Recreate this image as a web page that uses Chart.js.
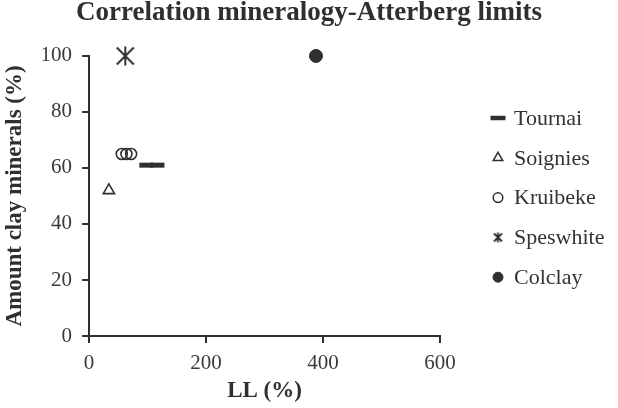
<!DOCTYPE html>
<html>
<head>
<meta charset="utf-8">
<script src="https://cdn.jsdelivr.net/npm/chart.js@4.4.1/dist/chart.umd.min.js"></script>
<style>
  html, body { margin: 0; padding: 0; background: #fff; }
  #chart { display: block; }
</style>
</head>
<body>
<canvas id="chart" width="618" height="408"></canvas>
<script>
// data
const seriesNames = ['Tournai', 'Soignies', 'Kruibeke', 'Speswhite', 'Colclay'];
const tournaiLL = [98, 117];
const tournaiClay = [61, 61];
const soigniesLL = [34];
const soigniesClay = [52];
const kruibekeLL = [56, 64, 72];
const kruibekeClay = [65, 65, 65];
const speswhiteLL = [62];
const speswhiteClay = [100];
const colclayLL = [388];
const colclayClay = [100];
const xTicks = [0, 200, 400, 600];
const yTicks = [0, 20, 40, 60, 80, 100];

const ink = '#2f2f2f';
const serif = '"Liberation Serif", "Times New Roman", serif';

function pts(xs, ys) {
    return xs.map((x, i) => ({x: x, y: ys[i]}));
}

// six-armed asterisk (vertical bar + X), drawn once as an image
function asterisk(w, h, lw) {
    const c = document.createElement('canvas');
    c.width = w; c.height = h;
    const g = c.getContext('2d');
    g.strokeStyle = ink;
    g.lineWidth = lw;
    g.beginPath();
    g.moveTo(w / 2, 0.5); g.lineTo(w / 2, h - 0.5);
    g.moveTo(1.5, 1.5); g.lineTo(w - 1.5, h - 1.5);
    g.moveTo(w - 1.5, 1.5); g.lineTo(1.5, h - 1.5);
    g.stroke();
    return c;
}
const starBig = asterisk(20, 20, 2);
const starSmall = asterisk(11, 11, 1.8);

// legend drawn at the right of the plot
const legendX = 498, legendTop = 118, legendStep = 39.8, legendTextX = 514;
const legendMarks = [
    {pointStyle: 'line', radius: 7.5, borderWidth: 4.5, fill: false},
    {pointStyle: 'triangle', radius: 5.5, borderWidth: 1.5, fill: false},
    {pointStyle: 'circle', radius: 4.8, borderWidth: 1.5, fill: false},
    {pointStyle: starSmall, radius: 5, borderWidth: 0, fill: false},
    {pointStyle: 'circle', radius: 5, borderWidth: 1, fill: true}
];
const sideLegend = {
    id: 'sideLegend',
    afterDraw(chart) {
        const c = chart.ctx;
        c.save();
        chart.data.datasets.forEach((ds, i) => {
            const y = legendTop + i * legendStep;
            const m = legendMarks[i];
            c.strokeStyle = ink;
            c.fillStyle = m.fill ? ink : 'rgba(0,0,0,0)';
            c.lineWidth = m.borderWidth;
            Chart.helpers.drawPoint(c, {pointStyle: m.pointStyle, radius: m.radius,
                borderWidth: m.borderWidth, rotation: 0}, legendX, y);
            c.fillStyle = '#333';
            c.font = '22px ' + serif;
            c.textAlign = 'left';
            c.textBaseline = 'middle';
            c.fillText(ds.label, legendTextX, y + 1);
        });
        c.restore();
    }
};

window.addEventListener('load', () => {
    const ctx = document.getElementById('chart').getContext('2d');

    const datasets = [
        {label: seriesNames[0], data: pts(tournaiLL, tournaiClay), pointStyle: 'line',
         pointRadius: 7, borderWidth: 5, borderColor: ink, backgroundColor: ink},
        {label: seriesNames[1], data: pts(soigniesLL, soigniesClay), pointStyle: 'triangle',
         pointRadius: 6.5, borderWidth: 1.6, borderColor: ink, backgroundColor: 'rgba(0,0,0,0)'},
        {label: seriesNames[2], data: pts(kruibekeLL, kruibekeClay), pointStyle: 'circle',
         pointRadius: 5.5, borderWidth: 1.6, borderColor: ink, backgroundColor: 'rgba(255,255,255,0)'},
        {label: seriesNames[3], data: pts(speswhiteLL, speswhiteClay), pointStyle: starBig,
         pointRadius: 10, borderWidth: 1, borderColor: ink, backgroundColor: ink},
        {label: seriesNames[4], data: pts(colclayLL, colclayClay), pointStyle: 'circle',
         pointRadius: 6.5, borderWidth: 1, borderColor: ink, backgroundColor: ink}
    ];
    datasets.forEach(d => { d.clip = false; });

    new Chart(ctx, {
        type: 'scatter',
        data: {datasets: datasets},
        plugins: [sideLegend],
        options: {
            responsive: false,
            animation: false,
            layout: {padding: 0},
            plugins: {
                tooltip: {enabled: false},
                legend: {display: false},
                title: {
                    display: true,
                    text: 'Correlation mineralogy-Atterberg limits',
                    color: ink,
                    font: {family: serif, size: 27, weight: 'bold', lineHeight: 0.85},
                    padding: {top: 2, bottom: 31}
                }
            },
            scales: {
                x: {
                    type: 'linear',
                    min: 0, max: 600,
                    afterBuildTicks: (s) => { s.ticks = xTicks.map(v => ({value: v})); },
                    grid: {drawOnChartArea: false, color: ink, lineWidth: 2, tickLength: 7},
                    border: {color: ink, width: 2},
                    ticks: {color: '#3a3a3a', font: {family: serif, size: 21}, padding: 8},
                    title: {display: true, text: 'LL (%)', color: ink,
                            font: {family: serif, size: 23, weight: 'bold'}, padding: {top: 0, bottom: 3}},
                    afterFit: (s) => { s.height = 72; }
                },
                y: {
                    type: 'linear',
                    min: 0, max: 100,
                    afterBuildTicks: (s) => { s.ticks = yTicks.map(v => ({value: v})); },
                    grid: {drawOnChartArea: false, color: ink, lineWidth: 2, tickLength: 7},
                    border: {color: ink, width: 2},
                    ticks: {color: '#3a3a3a', font: {family: serif, size: 21}, padding: 10},
                    title: {display: true, text: 'Amount clay minerals (%)', color: ink,
                            font: {family: serif, size: 23, weight: 'bold'}, padding: {top: 1, bottom: 0}},
                    afterFit: (s) => { s.width = 89; }
                },
                // empty room on the right where the legend goes
                yGap: {
                    type: 'linear',
                    position: 'right',
                    display: true,
                    grid: {display: false},
                    border: {display: false},
                    ticks: {display: false},
                    afterFit: (s) => { s.width = 178; }
                }
            }
        }
    });
});
</script>
</body>
</html>
